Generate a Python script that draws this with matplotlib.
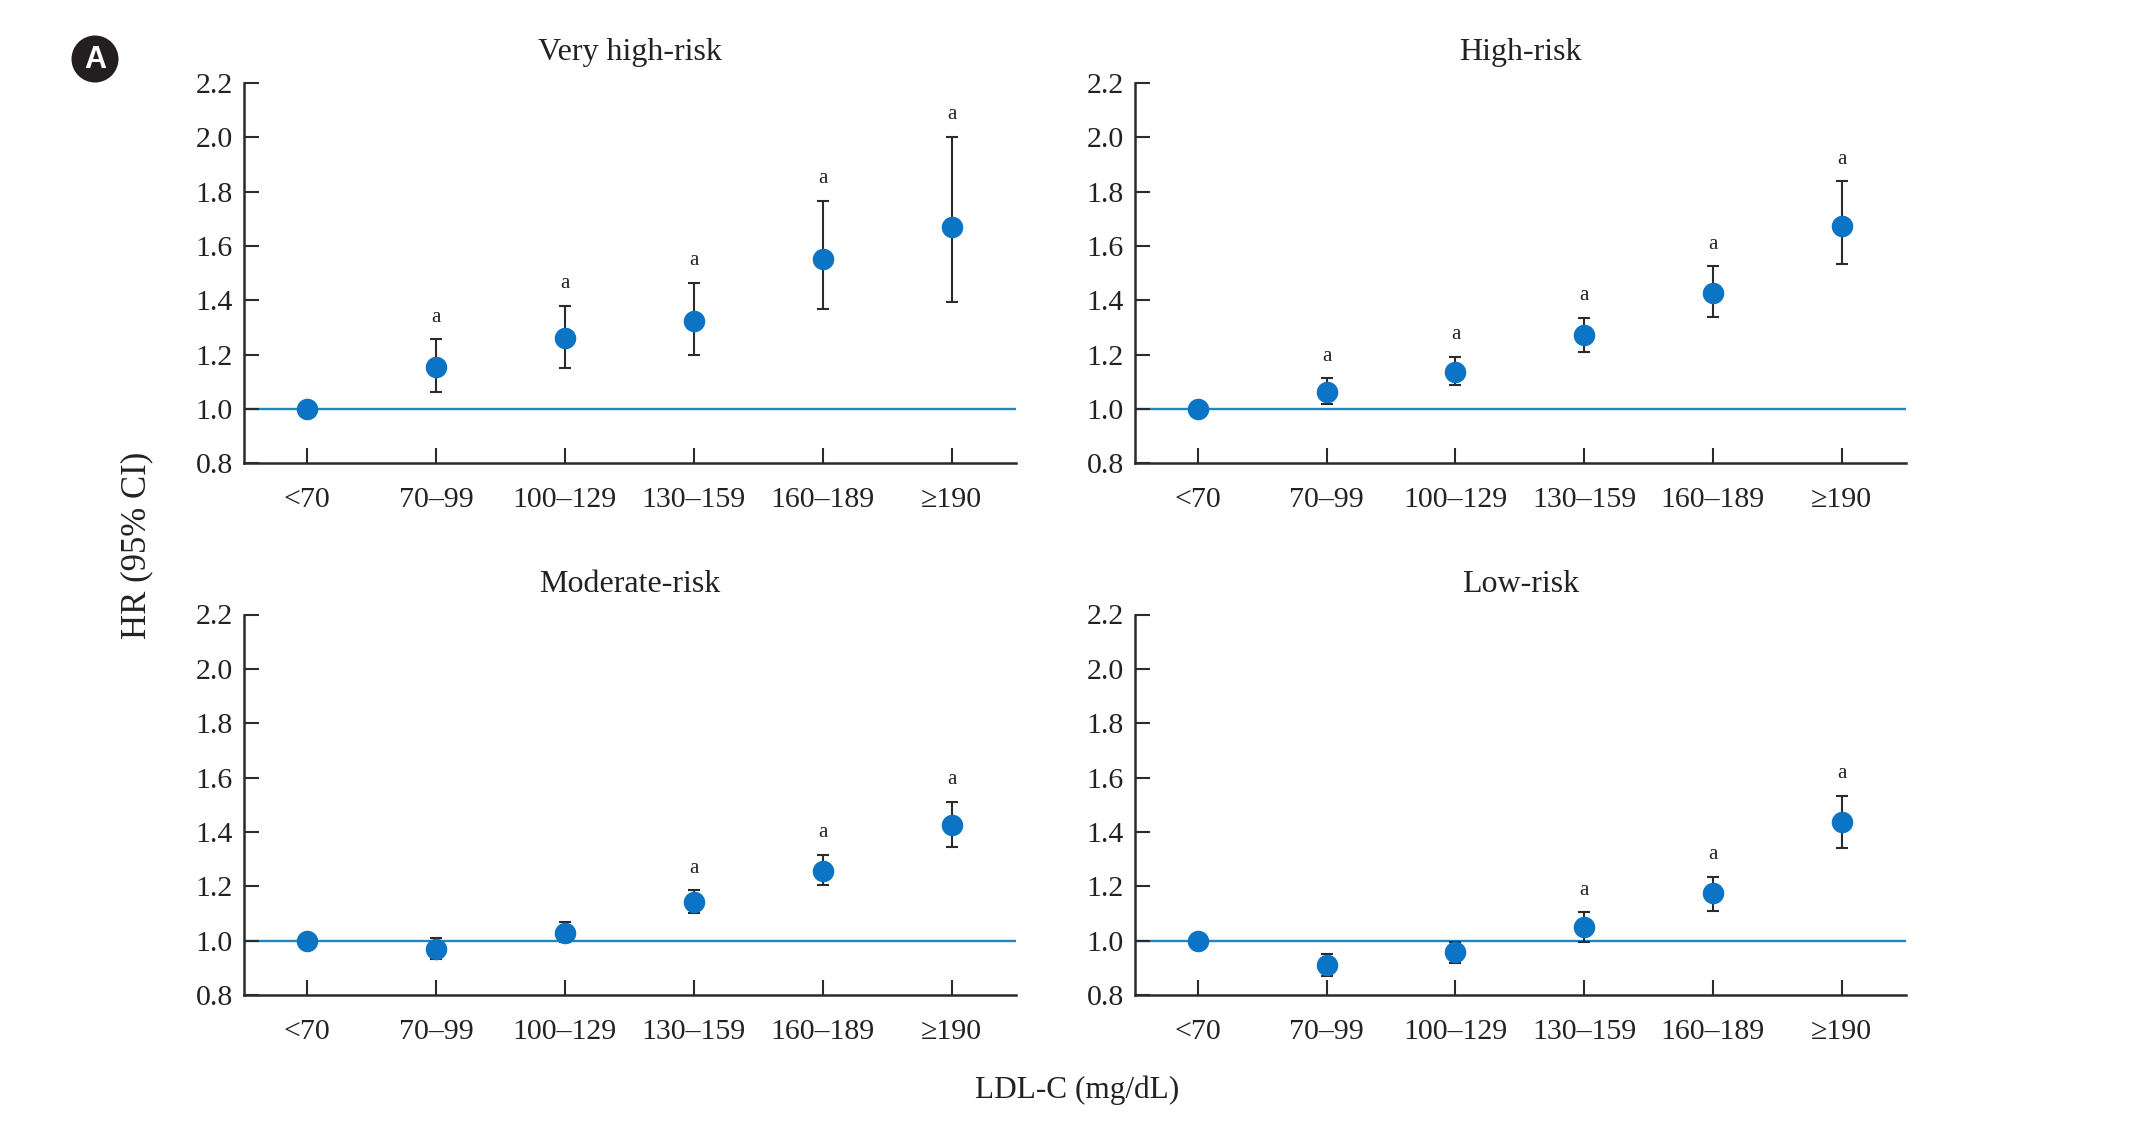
import matplotlib
matplotlib.use("Agg")
import matplotlib.pyplot as plt
from matplotlib.patches import Circle

categories = ["<70", "70\u201399", "100\u2013129", "130\u2013159", "160\u2013189", "\u2265190"]
yticks = [0.8, 1.0, 1.2, 1.4, 1.6, 1.8, 2.0, 2.2]

titles = ["Very high-risk", "High-risk", "Moderate-risk", "Low-risk"]

vh_hr = [1.00, 1.155, 1.26, 1.325, 1.553, 1.671]
vh_lo = [1.00, 1.063, 1.153, 1.199, 1.368, 1.393]
vh_hi = [1.00, 1.258, 1.380, 1.465, 1.766, 2.002]
vh_sig = [False, True, True, True, True, True]

hi_hr = [1.00, 1.064, 1.136, 1.274, 1.427, 1.675]
hi_lo = [1.00, 1.018, 1.088, 1.209, 1.340, 1.534]
hi_hi = [1.00, 1.114, 1.193, 1.336, 1.525, 1.838]
hi_sig = [False, True, True, True, True, True]

mo_hr = [1.00, 0.971, 1.028, 1.142, 1.258, 1.426]
mo_lo = [1.00, 0.931, 0.994, 1.101, 1.204, 1.345]
mo_hi = [1.00, 1.009, 1.069, 1.185, 1.316, 1.511]
mo_sig = [False, False, False, True, True, True]

lo_hr = [1.00, 0.911, 0.958, 1.051, 1.174, 1.435]
lo_lo = [1.00, 0.870, 0.917, 0.996, 1.109, 1.340]
lo_hi = [1.00, 0.951, 0.996, 1.104, 1.236, 1.534]
lo_sig = [False, False, False, True, True, True]

panels = [
    (vh_hr, vh_lo, vh_hi, vh_sig),
    (hi_hr, hi_lo, hi_hi, hi_sig),
    (mo_hr, mo_lo, mo_hi, mo_sig),
    (lo_hr, lo_lo, lo_hi, lo_sig),
]

SERIF = ["Liberation Serif", "DejaVu Serif"]
plt.rcParams["font.family"] = SERIF

W, H = 2134, 1143
fig = plt.figure(figsize=(W / 100, H / 100), dpi=100)

lefts = [244 / W, 1135 / W]
widths = [(1016 - 244) / W, (1906 - 1135) / W]
bottoms = [1 - 463.5 / H, 1 - 995 / H]
height = 380.5 / H

marker_color = "#0b74c4"
ref_color = "#1c87c2"
axis_color = "#2b2b2b"

for i, (hr, lo, hi, sig) in enumerate(panels):
    r, c = divmod(i, 2)
    ax = fig.add_axes([lefts[c], bottoms[r], widths[c], height])
    x = list(range(len(categories)))
    ax.axhline(1.0, color=ref_color, lw=1.7, zorder=1)
    for xi, h, l, u in zip(x, hr, lo, hi):
        if u > l:
            ax.errorbar([xi], [h], yerr=[[h - l], [u - h]], fmt="none",
                        ecolor=axis_color, elinewidth=1.5, capsize=4.3,
                        capthick=1.5, zorder=2)
    ax.plot(x, hr, "o", color=marker_color, markersize=15.5,
            markeredgewidth=0, zorder=3)
    for xi, u, s in zip(x, hi, sig):
        if s:
            ax.annotate("a", (xi, u), xytext=(0, 9), textcoords="offset points",
                        ha="center", va="bottom", fontsize=15, color="#222222")
    ax.set_xlim(-0.49, 5.5)
    ax.set_ylim(0.8, 2.2)
    ax.set_xticks(x)
    ax.set_xticklabels(categories)
    ax.set_yticks(yticks)
    ax.set_yticklabels([f"{v:.1f}" for v in yticks])
    for s in ["top", "right"]:
        ax.spines[s].set_visible(False)
    for s in ["left", "bottom"]:
        ax.spines[s].set_color(axis_color)
        ax.spines[s].set_linewidth(1.8)
    ax.tick_params(axis="both", direction="in", length=11, width=1.5,
                   color=axis_color, labelsize=21.5, labelcolor="#222222")
    ax.tick_params(axis="x", pad=17)
    ax.tick_params(axis="y", pad=8)
    ax.text(0.5, 1.079, titles[i], transform=ax.transAxes, ha="center",
            va="center", fontsize=23, color="#222222")

fig.text(137 / W, 1 - 545 / H, "HR (95% CI)", rotation=90, ha="center",
         va="center", fontsize=25, color="#222222")
fig.text(1077 / W, 1 - 1090 / H, "LDL-C (mg/dL)", ha="center", va="center",
         fontsize=22.5, color="#222222")

circ = Circle((95 / 100, (H - 59) / 100), 0.235, transform=fig.dpi_scale_trans,
              facecolor="#231f20", edgecolor="none")
fig.patches.append(circ)
fig.text(95 / W, 1 - 60 / H, "A", ha="center", va="center", color="white",
         fontsize=22, fontweight="bold", family=["Liberation Sans", "DejaVu Sans"])

fig.savefig("out.png", dpi=100)
